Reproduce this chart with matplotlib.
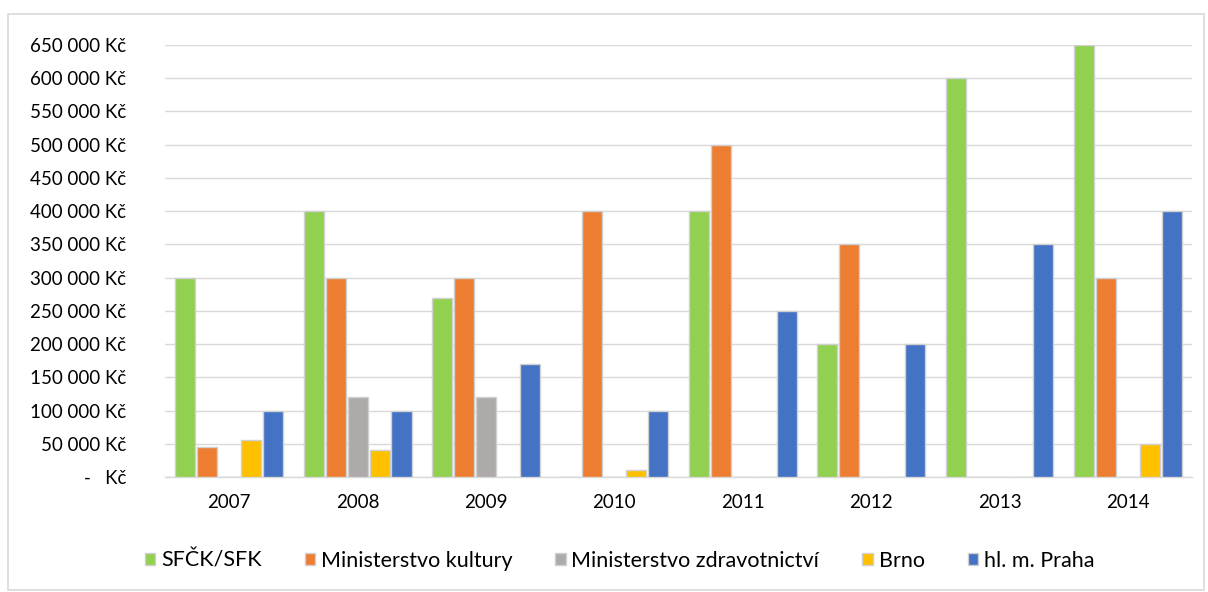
import matplotlib.pyplot as plt
import matplotlib.patches as mpatches
import numpy as np
from matplotlib.ticker import FuncFormatter

plt.rcParams["font.family"] = ["Lato", "DejaVu Sans"]

years = ["2007", "2008", "2009", "2010", "2011", "2012", "2013", "2014"]
series_names = ["SFČK/SFK", "Ministerstvo kultury", "Ministerstvo zdravotnictví",
                "Brno", "hl. m. Praha"]
sfck = [300000, 400000, 270000, 0, 400000, 200000, 600000, 650000]
kultura = [45000, 300000, 300000, 400000, 500000, 350000, 0, 300000]
zdravotnictvi = [0, 120000, 120000, 0, 0, 0, 0, 0]
brno = [55000, 40000, 0, 10000, 0, 0, 0, 50000]
praha = [100000, 100000, 170000, 100000, 250000, 200000, 350000, 400000]

colors = ["#92D050", "#ED7D31", "#AEAAAA", "#FFC000", "#4472C4"]


def kc_format(v, pos):
    if v == 0:
        return "-   Kč"
    return f"{int(v):,} Kč".replace(",", " ")


fig = plt.figure(figsize=(12.08, 5.92), dpi=100)
ax = fig.add_axes([0.1366, 0.1943, 0.8502, 0.7297])

# outer chart frame
fig.patches.append(mpatches.Rectangle((0.007, 0.003), 0.99, 0.974, transform=fig.transFigure,
                                      fill=False, edgecolor="#D9D9D9", linewidth=1.2))

x = np.arange(len(years))
step = 0.171
width = 0.156
all_series = [sfck, kultura, zdravotnictvi, brno, praha]
for i, (vals, name, col) in enumerate(zip(all_series, series_names, colors)):
    ax.bar(x + (i - 2) * step, vals, width=width, color=col, edgecolor="#D0D0D0",
           linewidth=1.0, label=name, zorder=3)

ax.set_xlim(-0.5, len(years) - 0.5)
ax.set_ylim(0, 650000)
ax.set_yticks(np.arange(0, 650001, 50000))
ax.yaxis.set_major_formatter(FuncFormatter(kc_format))
ax.set_xticks(x)
ax.set_xticklabels(years)
ax.tick_params(axis="both", length=0, labelsize=13.5, colors="#000000")
ax.tick_params(axis="y", pad=28)
ax.tick_params(axis="x", pad=12)
ax.grid(axis="y", color="#D9D9D9", linewidth=1.0, zorder=0)
for s in ["top", "right", "left"]:
    ax.spines[s].set_visible(False)
ax.spines["bottom"].set_color("#D9D9D9")
ax.spines["bottom"].set_linewidth(1.0)

handles = [mpatches.Patch(facecolor=c, edgecolor="#D0D0D0", label=n)
           for c, n in zip(colors, series_names)]
ax.legend(handles=handles, loc="center", bbox_to_anchor=(0.5128, 0.0524),
          bbox_transform=fig.transFigure, ncol=5, frameon=False, fontsize=15.5,
          handlelength=0.5, handleheight=0.5, handletextpad=0.25, columnspacing=2.0)

fig.savefig("out.png", dpi=100)
